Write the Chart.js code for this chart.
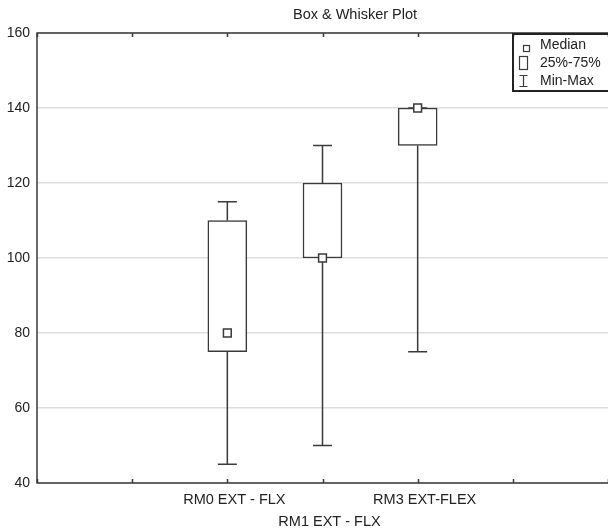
<!DOCTYPE html>
<html>
<head>
<meta charset="utf-8">
<title>Box &amp; Whisker Plot</title>
<script src="https://cdn.jsdelivr.net/npm/chart.js@4/dist/chart.umd.min.js"></script>
<style>
    html, body { margin: 0; padding: 0; background: #fff; }
    #wrap { width: 608px; height: 529px; }
</style>
</head>
<body>
<div id="wrap"><canvas id="boxChart" width="608" height="529"></canvas></div>
<script>
// Box & whisker data, one entry per category
const categories = ['RM0 EXT - FLX', 'RM1 EXT - FLX', 'RM3 EXT-FLEX'];
const positions = [2, 3, 4];
const minValues = [45, 50, 75];
const q1Values = [75, 100, 130];
const medianValues = [80, 100, 140];
const q3Values = [110, 120, 140];
const maxValues = [115, 130, 140];
const yTicks = [40, 60, 80, 100, 120, 140, 160];
const xTicks = [0, 1, 2, 3, 4, 5, 6];

const FONT = "'Liberation Sans', Arial, sans-serif";
const DARK = '#3a3a3a';

// Build datasets from the arrays
const boxData = positions.map((x, i) => ({ x: x, y: [q1Values[i], q3Values[i]] }));
const medianData = positions.map((x, i) => ({ x: x, y: medianValues[i] }));
const capData = [];
const whiskerData = [];
positions.forEach((x, i) => {
    capData.push({ x: x, y: minValues[i] }, { x: x, y: maxValues[i] });
    whiskerData.push({ x: x, y: minValues[i] }, { x: x, y: q1Values[i] }, { x: x, y: null });
    whiskerData.push({ x: x, y: q3Values[i] }, { x: x, y: maxValues[i] }, { x: x, y: null });
});

// Frame, inner tick marks, title and legend box
const decorPlugin = {
    id: 'decor',
    afterDraw(chart) {
        const ctx = chart.ctx;
        const area = chart.chartArea;
        const xs = chart.scales.x;
        ctx.save();
        ctx.strokeStyle = DARK;
        ctx.lineWidth = 1.5;
        ctx.beginPath();
        ctx.moveTo(area.right + 2, area.top);
        ctx.lineTo(area.left, area.top);
        ctx.lineTo(area.left, area.bottom);
        ctx.lineTo(area.right + 2, area.bottom);
        ctx.stroke();

        // small ticks pointing inwards
        ctx.beginPath();
        xTicks.forEach(v => {
            const px = Math.round(xs.getPixelForValue(v)) + 0.5;
            ctx.moveTo(px, area.bottom);
            ctx.lineTo(px, area.bottom - 4);
            ctx.moveTo(px, area.top);
            ctx.lineTo(px, area.top + 4);
        });
        ctx.stroke();

        // title
        ctx.fillStyle = '#222';
        ctx.font = '14.5px ' + FONT;
        ctx.textAlign = 'center';
        ctx.textBaseline = 'middle';
        ctx.fillText('Box & Whisker Plot', 355, 15);

        // legend
        ctx.font = '14px ' + FONT;
        ctx.lineWidth = 2;
        ctx.strokeStyle = '#222';
        ctx.strokeRect(513, 34, 100, 57);
        ctx.lineWidth = 1.2;
        ctx.strokeStyle = DARK;
        ctx.strokeRect(523.5, 45.5, 6, 6);
        ctx.strokeRect(519.5, 56.5, 8, 13);
        ctx.beginPath();
        ctx.moveTo(523.5, 75); ctx.lineTo(523.5, 87);
        ctx.moveTo(519.5, 75.5); ctx.lineTo(527.5, 75.5);
        ctx.moveTo(519.5, 86.5); ctx.lineTo(527.5, 86.5);
        ctx.stroke();
        ctx.textAlign = 'left';
        ctx.fillText('Median', 540, 45);
        ctx.fillText('25%-75%', 540, 63);
        ctx.fillText('Min-Max', 540, 81);
        ctx.restore();
    }
};

const ctx = document.getElementById('boxChart').getContext('2d');
const boxChart = new Chart(ctx, {
    type: 'bar',
    data: {
        datasets: [
            {
                type: 'line',
                label: 'Min-Max',
                data: whiskerData,
                borderColor: DARK,
                borderWidth: 1.5,
                pointRadius: 0,
                spanGaps: false,
                order: 3
            },
            {
                type: 'bar',
                label: '25%-75%',
                data: boxData,
                backgroundColor: '#ffffff',
                borderColor: DARK,
                borderWidth: 1.5,
                borderSkipped: false,
                barThickness: 39,
                grouped: false,
                order: 2
            },
            {
                type: 'line',
                label: 'Caps',
                data: capData,
                showLine: false,
                pointStyle: 'line',
                pointRadius: 9.5,
                borderColor: DARK,
                borderWidth: 1.5,
                order: 1
            },
            {
                type: 'line',
                label: 'Median',
                data: medianData,
                showLine: false,
                pointStyle: 'rect',
                pointRadius: 5.5,
                backgroundColor: '#ffffff',
                borderColor: DARK,
                borderWidth: 1.5,
                order: 0
            }
        ]
    },
    options: {
        responsive: false,
        animation: false,
        events: [],
        layout: {
            autoPadding: false,
            padding: { top: 33, left: 0, right: 0, bottom: 0 }
        },
        plugins: {
            legend: { display: false },
            title: { display: false },
            tooltip: { enabled: false }
        },
        scales: {
            x: {
                type: 'linear',
                min: 0,
                max: 6,
                offset: false,
                afterFit: s => { s.height = 46; s.paddingLeft = 0; s.paddingRight = 0; },
                afterBuildTicks: s => { s.ticks = xTicks.map(v => ({ value: v })); },
                grid: { display: false, drawTicks: false },
                border: { display: false },
                ticks: {
                    autoSkip: false,
                    maxRotation: 0,
                    padding: 6,
                    labelOffset: 7,
                    color: '#222',
                    font: { family: FONT, size: 14.5, lineHeight: 1.5 },
                    callback: function(value) {
                        const i = positions.indexOf(value);
                        if (i < 0) return '';
                        // middle label sits on a second row
                        return i % 2 === 1 ? ['', categories[i]] : categories[i];
                    }
                }
            },
            y: {
                min: 40,
                max: 160,
                afterFit: s => { s.width = 37; },
                afterBuildTicks: s => { s.ticks = yTicks.map(v => ({ value: v })); },
                grid: { color: '#dedede', lineWidth: 1.5, drawTicks: false },
                border: { display: false },
                ticks: {
                    padding: 7,
                    color: '#222',
                    font: { family: FONT, size: 14 }
                }
            }
        }
    },
    plugins: [decorPlugin]
});
</script>
</body>
</html>
